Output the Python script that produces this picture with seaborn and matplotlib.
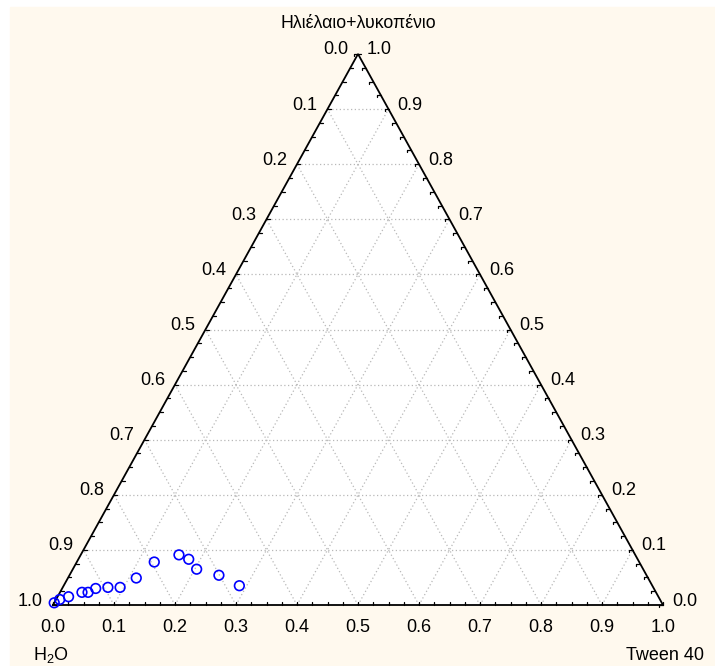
import numpy as np
import pandas as pd
import matplotlib
matplotlib.use("Agg")
import matplotlib.pyplot as plt
from matplotlib.patches import Rectangle, Polygon
import seaborn as sns

# ---- data (fractions) ----
tween = [0.0, 0.006, 0.018, 0.036, 0.046, 0.055, 0.074, 0.094, 0.112, 0.127,
         0.161, 0.181, 0.203, 0.245, 0.288]
oil = [0.004, 0.010, 0.015, 0.023, 0.023, 0.030, 0.032, 0.032, 0.049, 0.078,
       0.091, 0.083, 0.065, 0.054, 0.035]
ticks = [0.0, 0.1, 0.2, 0.3, 0.4, 0.5, 0.6, 0.7, 0.8, 0.9, 1.0]
label_top = "Ηλιέλαιο+λυκοπένιο"
label_left = "H$_2$O"
label_right = "Tween 40"

sns.set_theme(style="white")
plt.rcParams['font.family'] = ['Liberation Sans', 'DejaVu Sans']
plt.rcParams['mathtext.default'] = 'regular'

W, H = 715, 666
fig = plt.figure(figsize=(W / 100, H / 100), dpi=100, facecolor='white')
fig.patches.append(Rectangle((10 / W, 0), (W - 10) / W, (H - 7) / H,
                             transform=fig.transFigure, color='#FFF9EE', zorder=-10))

x0, y0, aw, ah = 53, 605, 610, 551
ax = fig.add_axes([x0 / W, (H - y0) / H, aw / W, ah / H])
ax.set_xlim(0, 1)
ax.set_ylim(0, 1)
ax.axis('off')
px = 1.0 / aw
py = 1.0 / ah

# triangle
ax.add_patch(Polygon([(0, 0), (1, 0), (0.5, 1)], closed=True, facecolor='white',
                     edgecolor='none', zorder=0))

# grid
gcol = '#B8B8B8'
for k in range(1, 10):
    v = k / 10
    ax.plot([v / 2, 1 - v / 2], [v, v], color=gcol, lw=0.9, ls=(0, (1, 2)), zorder=1)
    ax.plot([v, v + (1 - v) / 2], [0, 1 - v], color=gcol, lw=0.9, ls=(0, (1, 2)), zorder=1)
    ax.plot([1 - v, (1 - v) / 2], [0, 1 - v], color=gcol, lw=0.9, ls=(0, (1, 2)), zorder=1)

# edges
ax.plot([0, 1, 0.5, 0], [0, 0, 1, 0], color='black', lw=1.3, zorder=3, clip_on=False,
        solid_joinstyle='miter')

# minor ticks every 0.025
for t in np.arange(0, 1.0001, 0.025):
    # bottom
    ax.plot([t, t], [0, 3 * py], color='black', lw=0.9, zorder=3, clip_on=False)
    # left
    xl, yl = t / 2, t
    ax.plot([xl, xl + 3 * px], [yl, yl], color='black', lw=0.9, zorder=3, clip_on=False)
    # right
    xr, yr = 1 - t / 2, t
    ax.plot([xr, xr - 4 * px, xr - 4 * px], [yr, yr, yr - 2 * py], color='black', lw=0.9,
            zorder=3, clip_on=False)

fs = 13
for v in ticks:
    ax.text(v, -23 * py, f"{v:.1f}", ha='center', va='center', fontsize=fs, color='black')
    ax.text(v / 2 - 10 * px, v + 4 * py, f"{1 - v:.1f}", ha='right', va='center',
            fontsize=fs, color='black')
    ax.text(1 - v / 2 + 9 * px, v + 4 * py, f"{v:.1f}", ha='left', va='center',
            fontsize=fs, color='black')

ax.text(0.5, (y0 - 24) * py, label_top, ha='center', va='center', fontsize=12.8, color='black')
ax.text((33 - x0) * px, -(655 - y0) * py, label_left, ha='left', va='center', fontsize=fs,
        color='black')
ax.text((665 - x0) * px, -(655 - y0) * py, label_right, ha='center', va='center', fontsize=fs,
        color='black')

df = pd.DataFrame({'tween': tween, 'oil': oil})
df['X'] = df['tween'] + df['oil'] / 2
df['Y'] = df['oil']
sns.scatterplot(data=df, x='X', y='Y', ax=ax, s=48, facecolors='none', edgecolor='#0000FF',
                linewidth=1.2, zorder=4, clip_on=False, legend=False)
ax.set_xlim(0, 1)
ax.set_ylim(0, 1)
ax.axis('off')

fig.savefig('out.png', dpi=100, facecolor=fig.get_facecolor())
